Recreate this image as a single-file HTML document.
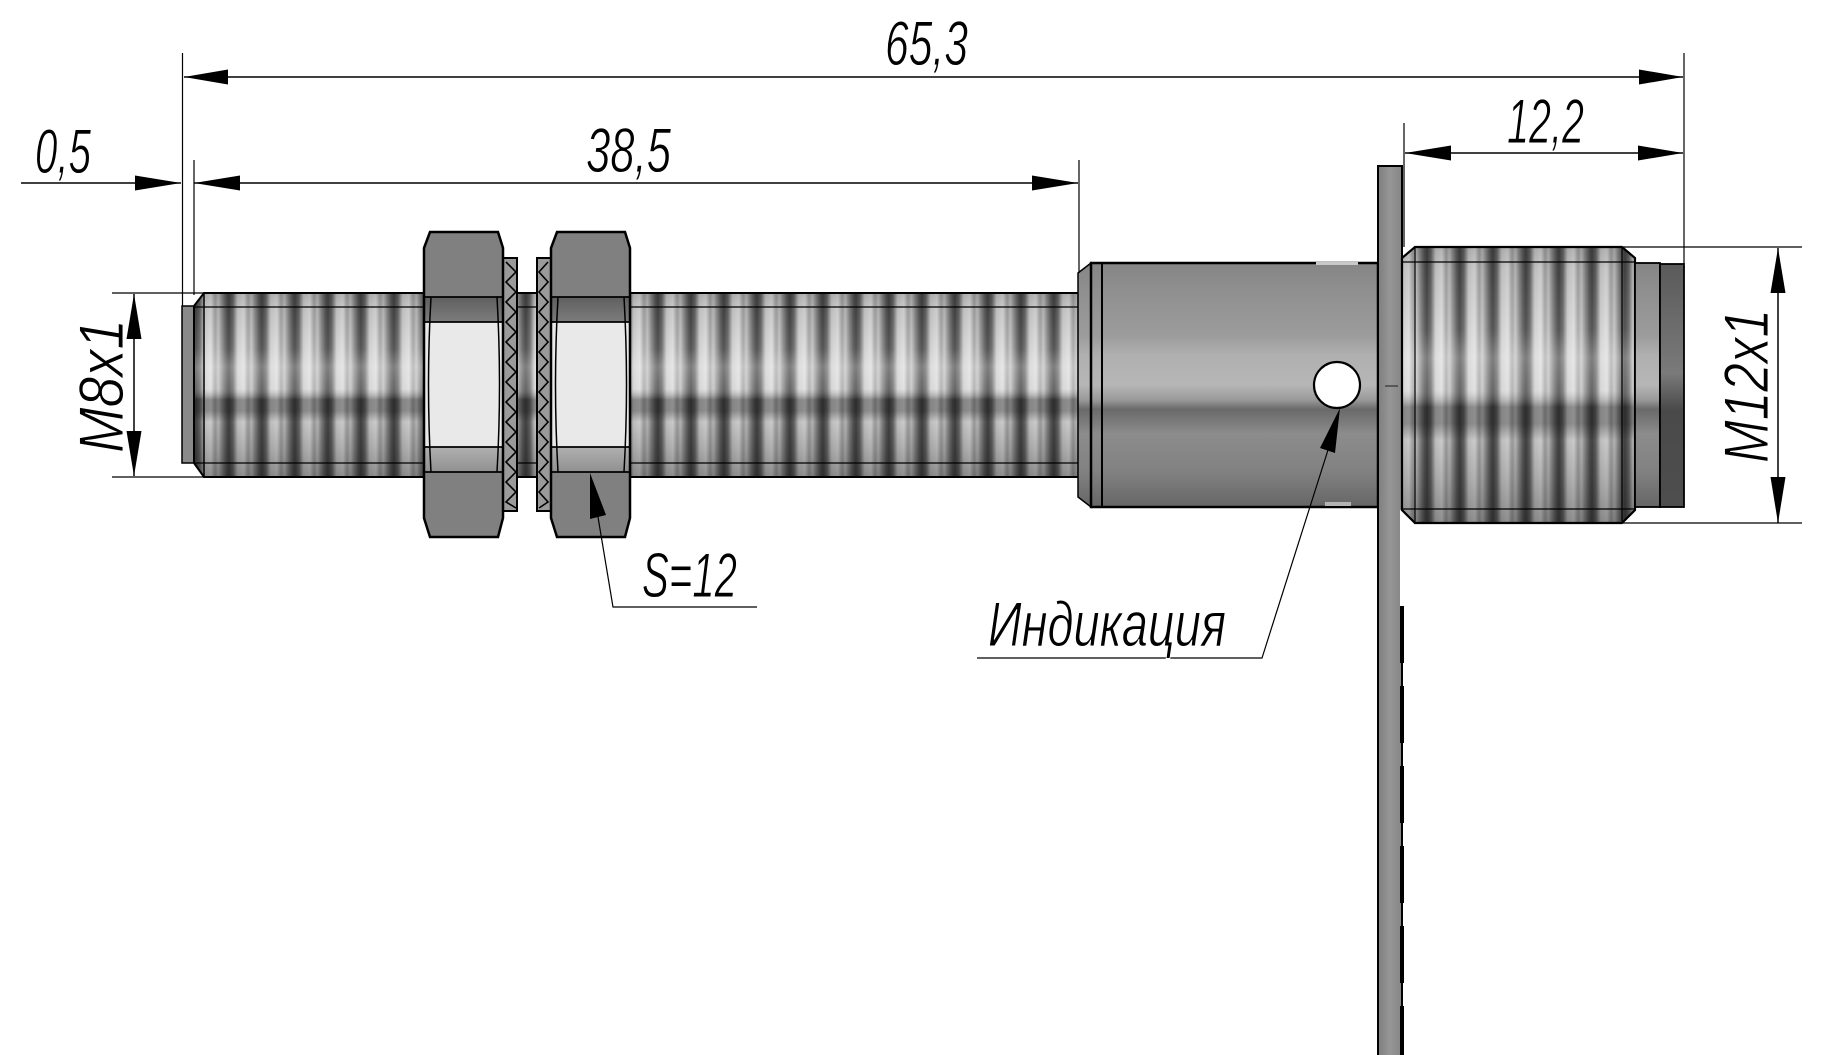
<!DOCTYPE html>
<html><head><meta charset="utf-8">
<style>
html,body{margin:0;padding:0;background:#fff;}
svg{display:block;}
text{font-family:"Liberation Sans","DejaVu Sans",sans-serif;font-style:italic;font-size:63px;fill:#000;stroke:#fff;stroke-width:0.9px;}
</style></head>
<body>
<svg width="1827" height="1055" viewBox="0 0 1827 1055" xmlns="http://www.w3.org/2000/svg">
<defs>
  <linearGradient id="stripe" x1="0" y1="0" x2="1" y2="0">
    <stop offset="0" stop-color="#454545"/>
    <stop offset="0.12" stop-color="#686868"/>
    <stop offset="0.26" stop-color="#cdcdcd"/>
    <stop offset="0.45" stop-color="#dcdcdc"/>
    <stop offset="0.58" stop-color="#a4a4a4"/>
    <stop offset="0.68" stop-color="#c2c2c2"/>
    <stop offset="0.80" stop-color="#888888"/>
    <stop offset="0.92" stop-color="#575757"/>
    <stop offset="1" stop-color="#454545"/>
  </linearGradient>
  <pattern id="thrM8" patternUnits="userSpaceOnUse" x="31" y="0" width="33" height="1055">
    <rect width="33" height="1055" fill="url(#stripe)"/>
  </pattern>
  <pattern id="thrM12" patternUnits="userSpaceOnUse" x="8" y="0" width="33" height="1055">
    <rect width="33" height="1055" fill="url(#stripe)"/>
  </pattern>
  <linearGradient id="shade" x1="0" y1="0" x2="0" y2="1">
    <stop offset="0" stop-color="#000" stop-opacity="0.18"/>
    <stop offset="0.08" stop-color="#000" stop-opacity="0.08"/>
    <stop offset="0.3" stop-color="#fff" stop-opacity="0.08"/>
    <stop offset="0.4" stop-color="#fff" stop-opacity="0.3"/>
    <stop offset="0.52" stop-color="#fff" stop-opacity="0.18"/>
    <stop offset="0.58" stop-color="#000" stop-opacity="0.35"/>
    <stop offset="0.64" stop-color="#000" stop-opacity="0.35"/>
    <stop offset="0.7" stop-color="#000" stop-opacity="0.08"/>
    <stop offset="0.85" stop-color="#000" stop-opacity="0.2"/>
    <stop offset="1" stop-color="#000" stop-opacity="0.35"/>
  </linearGradient>
  <linearGradient id="body" x1="0" y1="0" x2="0" y2="1">
    <stop offset="0" stop-color="#858585"/>
    <stop offset="0.1" stop-color="#8e8e8e"/>
    <stop offset="0.3" stop-color="#9c9c9c"/>
    <stop offset="0.38" stop-color="#b0b0b0"/>
    <stop offset="0.5" stop-color="#b6b6b6"/>
    <stop offset="0.56" stop-color="#9a9a9a"/>
    <stop offset="0.6" stop-color="#6a6a6a"/>
    <stop offset="0.65" stop-color="#7a7a7a"/>
    <stop offset="0.7" stop-color="#8c8c8c"/>
    <stop offset="0.85" stop-color="#828282"/>
    <stop offset="1" stop-color="#666666"/>
  </linearGradient>
  <linearGradient id="capdark" x1="0" y1="0" x2="0" y2="1">
    <stop offset="0" stop-color="#5a5a5a"/>
    <stop offset="0.45" stop-color="#7a7a7a"/>
    <stop offset="0.6" stop-color="#4a4a4a"/>
    <stop offset="1" stop-color="#4e4e4e"/>
  </linearGradient>
  <linearGradient id="plate" x1="0" y1="0" x2="1" y2="0">
    <stop offset="0" stop-color="#7e7e7e"/>
    <stop offset="0.5" stop-color="#969696"/>
    <stop offset="1" stop-color="#858585"/>
  </linearGradient>
  <linearGradient id="band1" x1="0" y1="0" x2="0" y2="1">
    <stop offset="0" stop-color="#5f5f5f"/>
    <stop offset="1" stop-color="#7c7c7c"/>
  </linearGradient>
  <linearGradient id="band2" x1="0" y1="0" x2="0" y2="1">
    <stop offset="0" stop-color="#b0b0b0"/>
    <stop offset="1" stop-color="#909090"/>
  </linearGradient>
</defs>

<rect width="1827" height="1055" fill="#fff" stroke="none"/>

<!-- ===== M8 threaded part ===== -->
<rect x="182" y="306" width="12" height="157" fill="#8a8a8a" stroke="#000" stroke-width="1.5"/>
<polygon points="194,306 204,293 1079,293 1079,477 204,477 194,463" fill="url(#thrM8)"/>
<polygon points="194,306 204,293 1079,293 1079,477 204,477 194,463" fill="url(#shade)" stroke="#000" stroke-width="2"/>
<line x1="194" y1="307" x2="1079" y2="307" stroke="#000" stroke-width="1.2"/>
<line x1="194" y1="463" x2="1079" y2="463" stroke="#000" stroke-width="1.2"/>
<line x1="204" y1="293" x2="204" y2="477" stroke="#000" stroke-width="1.5"/>

<!-- ===== Washers ===== -->
<rect x="503" y="258" width="14" height="253" fill="#9a9a9a" stroke="#000" stroke-width="2"/>
<polyline fill="none" stroke="#000" stroke-width="1.6" points="506,262 516,272 506,282 516,292 506,302 516,312 506,322 516,332 506,342 516,352 506,362 516,372 506,382 516,392 506,402 516,412 506,422 516,432 506,442 516,452 506,462 516,472 506,482 516,492 506,502 516,508"/>
<rect x="537" y="258" width="14" height="253" fill="#9a9a9a" stroke="#000" stroke-width="2"/>
<polyline fill="none" stroke="#000" stroke-width="1.6" points="548,262 539,272 548,282 539,292 548,302 539,312 548,322 539,332 548,342 539,352 548,362 539,372 548,382 539,392 548,402 539,412 548,422 539,432 548,442 539,452 548,462 539,472 548,482 539,492 548,502 539,508"/>

<!-- ===== Nut 1 ===== -->
<g>
  <path d="M430,232 L498,232 L503,248 L503,518 L498,537 L430,537 L424,518 L424,248 Z" fill="#808080"/>
  <rect x="425" y="297" width="77" height="25" fill="url(#band1)"/>
  <rect x="425" y="322" width="77" height="125" fill="#e9e9e9"/>
  <rect x="425" y="447" width="77" height="25" fill="url(#band2)"/>
  <path d="M430,232 L498,232 L503,248 L503,518 L498,537 L430,537 L424,518 L424,248 Z" fill="none" stroke="#000" stroke-width="2.5"/>
  <line x1="425" y1="297" x2="502" y2="297" stroke="#000" stroke-width="1.8"/>
  <line x1="425" y1="322" x2="502" y2="322" stroke="#000" stroke-width="1.8"/>
  <line x1="425" y1="447" x2="502" y2="447" stroke="#000" stroke-width="1.8"/>
  <line x1="425" y1="472" x2="502" y2="472" stroke="#000" stroke-width="1.8"/>
  <path d="M431,297 Q426,385 431,472" fill="none" stroke="#000" stroke-width="1.5"/>
  <path d="M497,297 Q502,385 497,472" fill="none" stroke="#000" stroke-width="1.5"/>
</g>
<!-- ===== Nut 2 ===== -->
<g transform="translate(127,0)">
  <path d="M430,232 L498,232 L503,248 L503,518 L498,537 L430,537 L424,518 L424,248 Z" fill="#808080"/>
  <rect x="425" y="297" width="77" height="25" fill="url(#band1)"/>
  <rect x="425" y="322" width="77" height="125" fill="#e9e9e9"/>
  <rect x="425" y="447" width="77" height="25" fill="url(#band2)"/>
  <path d="M430,232 L498,232 L503,248 L503,518 L498,537 L430,537 L424,518 L424,248 Z" fill="none" stroke="#000" stroke-width="2.5"/>
  <line x1="425" y1="297" x2="502" y2="297" stroke="#000" stroke-width="1.8"/>
  <line x1="425" y1="322" x2="502" y2="322" stroke="#000" stroke-width="1.8"/>
  <line x1="425" y1="447" x2="502" y2="447" stroke="#000" stroke-width="1.8"/>
  <line x1="425" y1="472" x2="502" y2="472" stroke="#000" stroke-width="1.8"/>
  <path d="M431,297 Q426,385 431,472" fill="none" stroke="#000" stroke-width="1.5"/>
  <path d="M497,297 Q502,385 497,472" fill="none" stroke="#000" stroke-width="1.5"/>
</g>

<!-- ===== Body ===== -->
<polygon points="1078,273 1091,263 1091,507 1078,497" fill="url(#body)" stroke="#000" stroke-width="1.5"/>
<rect x="1091" y="263" width="287" height="244" fill="url(#body)" stroke="#000" stroke-width="2.5"/>
<line x1="1102" y1="263" x2="1102" y2="507" stroke="#000" stroke-width="2"/>
<rect x="1325" y="502" width="26" height="4" fill="#b4b4b4"/>
<rect x="1316" y="262" width="42" height="3" fill="#c8c8c8"/>
<circle cx="1337" cy="385" r="23" fill="#fff" stroke="#000" stroke-width="2.2"/>

<!-- ===== Plate / cable ===== -->
<rect x="1378" y="166" width="24" height="900" fill="url(#plate)" stroke="#000" stroke-width="2"/>
<line x1="1385" y1="386" x2="1398" y2="386" stroke="#333" stroke-width="1.2"/>
<rect x="1400" y="510" width="6" height="96" fill="#fff"/>
<line x1="1402" y1="606" x2="1402" y2="1055" stroke="#000" stroke-width="4" stroke-dasharray="57,23"/>

<!-- ===== M12 thread ===== -->
<polygon points="1402,258 1415,247 1622,247 1635,258 1635,510 1622,523 1415,523 1402,510" fill="url(#thrM12)"/>
<polygon points="1402,258 1415,247 1622,247 1635,258 1635,510 1622,523 1415,523 1402,510" fill="url(#shade)" stroke="#000" stroke-width="2.2"/>
<line x1="1402" y1="262" x2="1635" y2="262" stroke="#000" stroke-width="1.2"/>
<line x1="1402" y1="509" x2="1635" y2="509" stroke="#000" stroke-width="1.2"/>
<line x1="1415" y1="247" x2="1415" y2="523" stroke="#000" stroke-width="1.2"/>
<line x1="1622" y1="247" x2="1622" y2="523" stroke="#000" stroke-width="1.2"/>
<rect x="1635" y="263" width="25" height="244" fill="url(#body)" stroke="#000" stroke-width="1.8"/>
<rect x="1660" y="264" width="24" height="243" fill="url(#capdark)" stroke="#000" stroke-width="1.8"/>

<!-- ===== Extension lines ===== -->
<g stroke="#000" stroke-width="1.2" fill="none">
  <line x1="182.5" y1="53" x2="182.5" y2="306"/>
  <line x1="194" y1="160" x2="194" y2="295"/>
  <line x1="1079" y1="160" x2="1079" y2="273"/>
  <line x1="1684" y1="53" x2="1684" y2="264"/>
  <line x1="1404" y1="123" x2="1404" y2="247"/>
  <line x1="112" y1="293" x2="204" y2="293"/>
  <line x1="112" y1="477" x2="204" y2="477"/>
  <line x1="1622" y1="247" x2="1802" y2="247"/>
  <line x1="1622" y1="523" x2="1802" y2="523"/>
</g>

<!-- ===== Dimension lines ===== -->
<g stroke="#000" stroke-width="1.5" fill="none">
  <line x1="184" y1="77" x2="1683" y2="77"/>
  <line x1="21" y1="183" x2="181" y2="183"/>
  <line x1="194" y1="183" x2="1078" y2="183"/>
  <line x1="1405" y1="153" x2="1683" y2="153"/>
  <line x1="134" y1="294" x2="134" y2="476"/>
  <line x1="1778" y1="248" x2="1778" y2="523"/>
</g>
<g fill="#000">
  <polygon points="184,77 228,69.5 228,84.5"/>
  <polygon points="1683,77 1639,69.5 1639,84.5"/>
  <polygon points="181,183 135,175.5 135,190.5"/>
  <polygon points="194,183 240,175.5 240,190.5"/>
  <polygon points="1078,183 1032,175.5 1032,190.5"/>
  <polygon points="1405,153 1451,145.5 1451,160.5"/>
  <polygon points="1683,153 1638,145.5 1638,160.5"/>
  <polygon points="134,294 126.5,339 141.5,339"/>
  <polygon points="134,476 126.5,431 141.5,431"/>
  <polygon points="1778,248 1770.5,293 1785.5,293"/>
  <polygon points="1778,523 1770.5,477 1785.5,477"/>
</g>

<!-- ===== Leaders ===== -->
<polygon points="590,473 590,519 606,515" fill="#000"/>
<polyline points="598,517 613,607 757,607" fill="none" stroke="#000" stroke-width="1.2"/>
<polygon points="1340,408 1320,448 1335,453" fill="#000"/>
<polyline points="1328,450 1262,658 977,658" fill="none" stroke="#000" stroke-width="1.2"/>

<!-- ===== Text ===== -->
<text x="885" y="65" textLength="83" lengthAdjust="spacingAndGlyphs">65,3</text>
<text x="35" y="173" textLength="56" lengthAdjust="spacingAndGlyphs">0,5</text>
<text x="586" y="172" textLength="85" lengthAdjust="spacingAndGlyphs">38,5</text>
<text x="1507" y="143" textLength="77" lengthAdjust="spacingAndGlyphs">12,2</text>
<text x="642" y="597" textLength="95" lengthAdjust="spacingAndGlyphs">S=12</text>
<text x="988" y="646" textLength="238" lengthAdjust="spacingAndGlyphs">Индикация</text>
<text transform="translate(123,453) rotate(-90)" x="0" y="0" textLength="134" lengthAdjust="spacingAndGlyphs">M8x1</text>
<text transform="translate(1768,463) rotate(-90)" x="0" y="0" textLength="154" lengthAdjust="spacingAndGlyphs">M12x1</text>
</svg>
</body></html>
